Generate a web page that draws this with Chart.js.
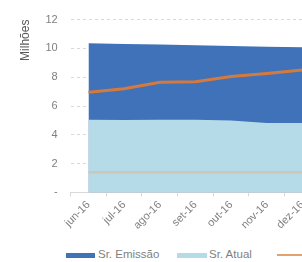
<!DOCTYPE html>
<html>
<head>
<meta charset="utf-8">
<script src="https://cdn.jsdelivr.net/npm/chart.js@4/dist/chart.umd.min.js"></script>
<style>
html,body{margin:0;padding:0;background:#fff;overflow:hidden;}
#wrap{position:relative;width:302px;height:262px;overflow:hidden;}
#cw{position:absolute;left:0;top:0;width:366px;height:234px;}
.lg{position:absolute;font-family:"Liberation Sans",Arial,sans-serif;font-size:11.5px;color:#7f7f7f;white-space:nowrap;}
.sw{position:absolute;}
</style>
</head>
<body>
<div id="wrap">
  <div id="cw"><canvas id="c"></canvas></div>
  <div class="sw" style="left:66px;top:253px;width:29px;height:5px;background:#3f72b8;"></div>
  <div class="lg" style="left:98px;top:248px;">Sr. Emissão</div>
  <div class="sw" style="left:177px;top:253px;width:30px;height:5px;background:#b5dbe8;"></div>
  <div class="lg" style="left:209px;top:248px;">Sr. Atual</div>
  <div class="sw" style="left:277px;top:254px;width:30px;height:2px;background:#e3a26e;"></div>
</div>
<script>
const categories = ['jun-16','jul-16','ago-16','set-16','out-16','nov-16','dez-16','jan-17'];
const srEmissao = [10.35, 10.31, 10.27, 10.22, 10.17, 10.12, 10.08, 10.05];
const srAtual   = [5.05, 5.03, 5.05, 5.05, 5.0, 4.82, 4.82, 4.82];
const terceira  = [6.95, 7.2, 7.65, 7.68, 8.05, 8.25, 8.5, 8.55];
const quarta    = [1.4, 1.4, 1.4, 1.4, 1.4, 1.4, 1.4, 1.4];
const yTicks    = [0, 2, 4, 6, 8, 10, 12];

const font = {family:'"Liberation Sans", Arial, sans-serif', size:11};
new Chart(document.getElementById('c'), {
  type:'line',
  data:{
    labels:categories,
    datasets:[
      {label:'Terceira', data:terceira, borderColor:'#d57a3e', borderWidth:3, pointRadius:0, fill:false, order:0, tension:0},
      {label:'Quarta', data:quarta, borderColor:'rgba(214,192,165,0.75)', borderWidth:2.5, pointRadius:0, fill:false, order:1},
      {label:'Sr. Atual', data:srAtual, borderWidth:0, borderColor:'rgba(0,0,0,0)', backgroundColor:'#b5dbe8', pointRadius:0, fill:'origin', order:2},
      {label:'Sr. Emissão', data:srEmissao, borderWidth:0, borderColor:'rgba(0,0,0,0)', backgroundColor:'#3f72b8', pointRadius:0, fill:'origin', order:3}
    ]
  },
  options:{
    responsive:true, maintainAspectRatio:false, animation:false,
    layout:{padding:{left:18, right:10, top:2, bottom:0}},
    plugins:{legend:{display:false}, tooltip:{enabled:false}},
    scales:{
      x:{
        offset:true,
        grid:{offset:true, drawOnChartArea:false, tickLength:4, color:'#d9d9d9'},
        border:{display:true, color:'#d9d9d9'},
        ticks:{font:font, color:'#7f7f7f', minRotation:45, maxRotation:45, padding:2, autoSkip:false}
      },
      y:{
        min:0, max:12,
        afterBuildTicks:(s)=>{s.ticks = yTicks.map(v=>({value:v}));},
        grid:{color:'#d9d9d9', drawTicks:false},
        border:{display:false, dash:[3,3]},
        ticks:{font:font, color:'#7f7f7f', padding:13, callback:(v)=> v===0 ? '-' : v},
        title:{display:true, text:'Milhões', align:'end', font:{family:font.family, size:12}, color:'#595959', padding:0}
      }
    }
  }
});
</script>
</body>
</html>
